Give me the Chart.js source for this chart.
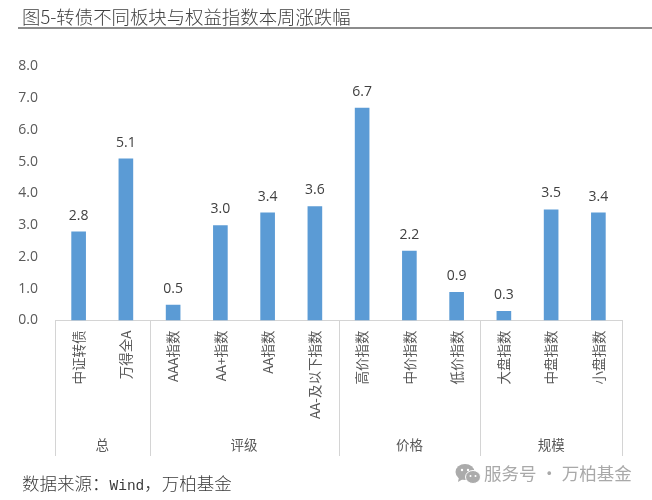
<!DOCTYPE html>
<html lang="zh">
<head>
<meta charset="utf-8">
<title>转债不同板块与权益指数本周涨跌幅</title>
<script src="https://cdn.jsdelivr.net/npm/chart.js@4"></script>
<style>
    html, body { margin: 0; padding: 0; background: #fff; }
    #wrap { position: relative; width: 652px; height: 500px; overflow: hidden; font-family: "Noto Sans CJK SC", "Noto Sans", sans-serif; }
    #chart { position: absolute; left: 0; top: 0; }
    .title { position: absolute; left: 22px; top: 4px; font-size: 18.4px; font-weight: 300; line-height: 24px; color: #404040; white-space: nowrap; }
    .rule { position: absolute; left: 18px; right: 0; top: 27px; height: 2px; background: #8c8c8c; }
    .source { position: absolute; left: 22px; top: 471px; font-size: 17.5px; font-weight: 300; line-height: 24px; color: #3a3a3a; white-space: nowrap; }
    .source span { font-family: "Liberation Mono", monospace; font-size: 14.5px; }
    .mark { position: absolute; left: 484px; top: 461px; font-size: 17.5px; line-height: 24px; color: #a9a9a9; white-space: nowrap; }
    .icon { position: absolute; left: 455px; top: 463px; }
</style>
</head>
<body>
<div id="wrap">
    <canvas id="chart" width="652" height="500"></canvas>
    <div class="title">图5-转债不同板块与权益指数本周涨跌幅</div>
    <div class="rule"></div>
    <div class="source">数据来源&#xFF1A;<span>Wind</span>&#xFF0C;万柏基金</div>
    <svg class="icon" width="26" height="22" viewBox="0 0 26 22">
        <ellipse cx="10" cy="9" rx="9.5" ry="8" fill="#ababab"/>
        <path d="M4 14 L3 19 L8 16 Z" fill="#ababab"/>
        <ellipse cx="18" cy="14" rx="7.5" ry="6.5" fill="#ababab" stroke="#fff" stroke-width="1"/>
        <circle cx="7" cy="7" r="1.2" fill="#fff"/>
        <circle cx="13" cy="7" r="1.2" fill="#fff"/>
        <circle cx="15.5" cy="13" r="1" fill="#fff"/>
        <circle cx="20.5" cy="13" r="1" fill="#fff"/>
    </svg>
    <div class="mark">服务号 · 万柏基金</div>
</div>
<script>
const categories = ['中证转债', '万得全A', 'AAA指数', 'AA+指数', 'AA指数', 'AA-及以下指数', '高价指数', '中价指数', '低价指数', '大盘指数', '中盘指数', '小盘指数'];
const values = [2.8, 5.1, 0.5, 3.0, 3.4, 3.6, 6.7, 2.2, 0.9, 0.3, 3.5, 3.4];
const groupNames = ['总', '评级', '价格', '规模'];
const groupSizes = [2, 4, 3, 3];

const textColor = '#595959';
const lineColor = '#d4d4d4';
const fontFamily = '"Noto Sans CJK SC", "Open Sans", sans-serif';

// value labels over the bars
const barLabels = {
    id: 'barLabels',
    afterDatasetsDraw(chart) {
        const ctx = chart.ctx;
        const bars = chart.getDatasetMeta(0).data;
        ctx.save();
        ctx.font = '14px "Open Sans", sans-serif';
        ctx.fillStyle = '#404040';
        ctx.textAlign = 'center';
        ctx.textBaseline = 'bottom';
        bars.forEach((bar, i) => {
            ctx.fillText(values[i].toFixed(1), bar.x, bar.y - 9);
        });
        ctx.restore();
    }
};

// second level of the category axis: separators and group names
const groupAxis = {
    id: 'groupAxis',
    afterDraw(chart) {
        const ctx = chart.ctx;
        const xScale = chart.scales.x;
        const step = xScale.width / categories.length;
        const top = xScale.top;
        const bottom = xScale.bottom;
        ctx.save();
        ctx.strokeStyle = lineColor;
        ctx.lineWidth = 1;
        ctx.fillStyle = textColor;
        ctx.font = '13.5px ' + fontFamily;
        ctx.textAlign = 'center';
        ctx.textBaseline = 'middle';
        let start = 0;
        const drawLine = function(x) {
            ctx.beginPath();
            ctx.moveTo(Math.round(x) + 0.5, top);
            ctx.lineTo(Math.round(x) + 0.5, bottom);
            ctx.stroke();
        };
        drawLine(xScale.left);
        groupNames.forEach((name, i) => {
            const end = start + groupSizes[i];
            drawLine(xScale.left + end * step);
            ctx.fillText(name, xScale.left + (start + end) / 2 * step, bottom - 11);
            start = end;
        });
        ctx.restore();
    }
};

new Chart(document.getElementById('chart').getContext('2d'), {
    type: 'bar',
    data: {
        labels: categories,
        datasets: [{
            data: values,
            backgroundColor: '#5b9bd5',
            categoryPercentage: 1,
            barPercentage: 0.31
        }]
    },
    options: {
        responsive: false,
        animation: false,
        layout: { padding: { top: 66.5, right: 30, bottom: 44, left: 0 } },
        plugins: {
            legend: { display: false },
            title: { display: false },
            tooltip: { enabled: false }
        },
        scales: {
            x: {
                afterFit(scale) { scale.height = 135.5; },
                grid: { display: false },
                border: { color: lineColor },
                ticks: {
                    autoSkip: false,
                    minRotation: 90,
                    maxRotation: 90,
                    padding: 2,
                    color: textColor,
                    font: { family: fontFamily, size: 13.5 }
                }
            },
            y: {
                min: 0,
                max: 8,
                afterFit(scale) { scale.width = 55; },
                grid: { display: false },
                border: { display: false },
                ticks: {
                    stepSize: 1,
                    padding: 9,
                    color: textColor,
                    font: { family: '"Open Sans", sans-serif', size: 14 },
                    callback: function(value) { return value.toFixed(1); }
                }
            }
        }
    },
    plugins: [barLabels, groupAxis]
});
</script>
</body>
</html>
